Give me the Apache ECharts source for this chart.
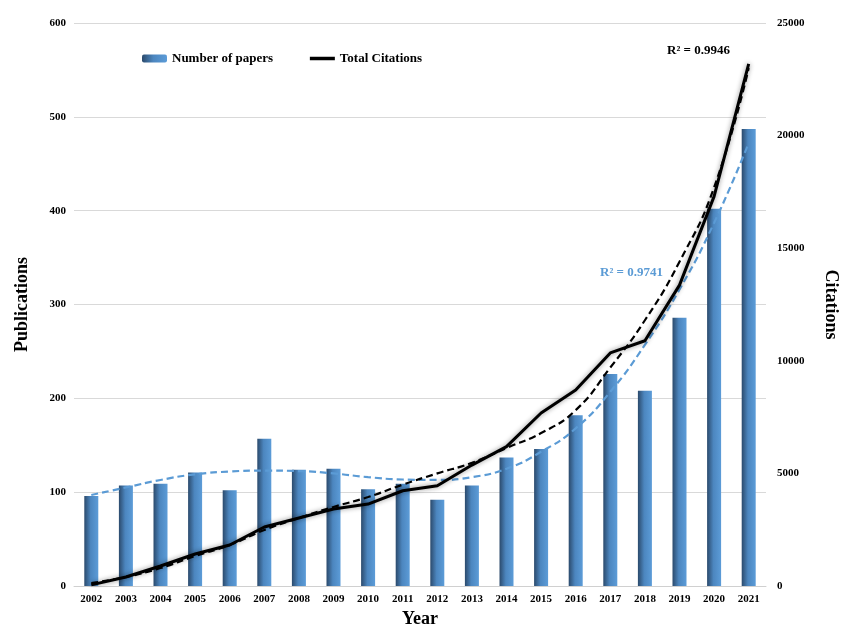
<!DOCTYPE html>
<html>
<head>
<meta charset="utf-8">
<script src="https://cdn.jsdelivr.net/npm/echarts@6/dist/echarts.min.js"></script>
<style>
  html, body { margin: 0; padding: 0; background: #fff; }
  #chart { width: 844px; height: 626px; }
</style>
</head>
<body>
<div id="chart"></div>
<script>
// Dados
var years = ['2002', '2003', '2004', '2005', '2006', '2007', '2008', '2009', '2010', '2011',
             '2012', '2013', '2014', '2015', '2016', '2017', '2018', '2019', '2020', '2021'];
var papers = [96, 107, 109, 121, 102, 157, 124, 125, 103, 109,
              92, 107, 137, 146, 182, 226, 208, 286, 402, 487];
var citations = [50, 400, 890, 1420, 1820, 2620, 3020, 3420, 3640, 4230,
                 4450, 5370, 6190, 7680, 8700, 10350, 10890, 13360, 17300, 23180];
// linhas de tendência
var papersTrend = [97, 105, 113, 119, 122, 123, 122.5, 120, 116, 113.5,
                   113, 116, 125, 143, 168, 207, 257, 316, 387, 472];
var citationsTrend = [130, 400, 800, 1330, 1820, 2490, 3020, 3510, 3950, 4500,
                      5000, 5470, 6130, 6790, 7810, 9700, 11800, 14400, 17700, 23000];
var leftTicks = { min: 0, max: 600, interval: 100 };
var rightTicks = { min: 0, max: 25000, interval: 5000 };

var serif = '"Liberation Serif", "DejaVu Serif", serif';
var barColor = new echarts.graphic.LinearGradient(0, 0, 1, 0, [
    { offset: 0, color: '#2b4a6c' },
    { offset: 0.45, color: '#4c86bf' },
    { offset: 1, color: '#5c9cd8' }
]);

option = {
    backgroundColor: '#fff',
    animation: false,
    grid: { left: 74, right: 78, top: 23, bottom: 40, outerBoundsMode: 'none', containLabel: false },
    legend: {
        data: [
            { name: 'Number of papers' },
            { name: 'Total Citations', itemStyle: { opacity: 0 }, lineStyle: { width: 3.5, shadowBlur: 0 } }
        ],
        left: 137,
        top: 47,
        itemWidth: 25,
        itemHeight: 8,
        itemGap: 35,
        textStyle: { fontFamily: serif, fontWeight: 'bold', fontSize: 13, color: '#000' }
    },
    xAxis: {
        type: 'category',
        data: years,
        name: 'Year',
        nameLocation: 'middle',
        nameGap: 18,
        nameTextStyle: { fontFamily: serif, fontWeight: 'bold', fontSize: 18, color: '#000' },
        axisLine: { lineStyle: { color: '#d0d0d0', width: 1 } },
        axisTick: { show: false },
        axisLabel: { fontFamily: serif, fontWeight: 'bold', fontSize: 11, color: '#000', margin: 8 }
    },
    yAxis: [
        {
            type: 'value',
            min: leftTicks.min, max: leftTicks.max, interval: leftTicks.interval,
            name: 'Publications',
            nameLocation: 'middle',
            nameGap: 43,
            nameTextStyle: { fontFamily: serif, fontWeight: 'bold', fontSize: 18, color: '#000' },
            axisLine: { show: false },
            axisTick: { show: false },
            axisLabel: { fontFamily: serif, fontWeight: 'bold', fontSize: 11, color: '#000', margin: 8 },
            splitLine: { lineStyle: { color: '#d9d9d9', width: 1 } }
        },
        {
            type: 'value',
            position: 'right',
            min: rightTicks.min, max: rightTicks.max, interval: rightTicks.interval,
            name: 'Citations',
            nameLocation: 'middle',
            nameGap: 56,
            nameRotate: -90,
            nameTextStyle: { fontFamily: serif, fontWeight: 'bold', fontSize: 18, color: '#000' },
            axisLine: { show: false },
            axisTick: { show: false },
            axisLabel: {
                fontFamily: serif, fontWeight: 'bold', fontSize: 11, color: '#000', margin: 11,
                formatter: function (v) { return String(v); }
            },
            splitLine: { show: false }
        }
    ],
    graphic: [
        {
            type: 'text', left: 667, top: 44,
            style: { text: 'R² = 0.9946', font: 'bold 13px ' + serif, fill: '#000' }
        },
        {
            type: 'text', left: 600, top: 266,
            style: { text: 'R² = 0.9741', font: 'bold 13px ' + serif, fill: '#5b9bd5' }
        }
    ],
    series: [
        {
            name: 'Number of papers',
            type: 'bar',
            yAxisIndex: 0,
            barWidth: 14,
            itemStyle: { color: barColor },
            data: papers,
            z: 1
        },
        {
            name: 'papers trend',
            type: 'line',
            yAxisIndex: 0,
            smooth: true,
            symbol: 'none',
            lineStyle: { color: '#5b9bd5', width: 2.2, type: [7, 4] },
            data: papersTrend,
            z: 3
        },
        {
            name: 'Total Citations',
            type: 'line',
            yAxisIndex: 1,
            symbol: 'none',
            itemStyle: { color: '#000' },
            lineStyle: { color: '#000', width: 3, shadowBlur: 5, shadowColor: 'rgba(0,0,0,0.45)' },
            data: citations,
            z: 4
        },
        {
            name: 'citations trend',
            type: 'line',
            yAxisIndex: 1,
            smooth: true,
            symbol: 'none',
            lineStyle: { color: '#000', width: 2.2, type: [7, 4] },
            data: citationsTrend,
            z: 5
        }
    ]
};

var myChart = echarts.init(document.getElementById('chart'));
myChart.setOption(option);
</script>
</body>
</html>
